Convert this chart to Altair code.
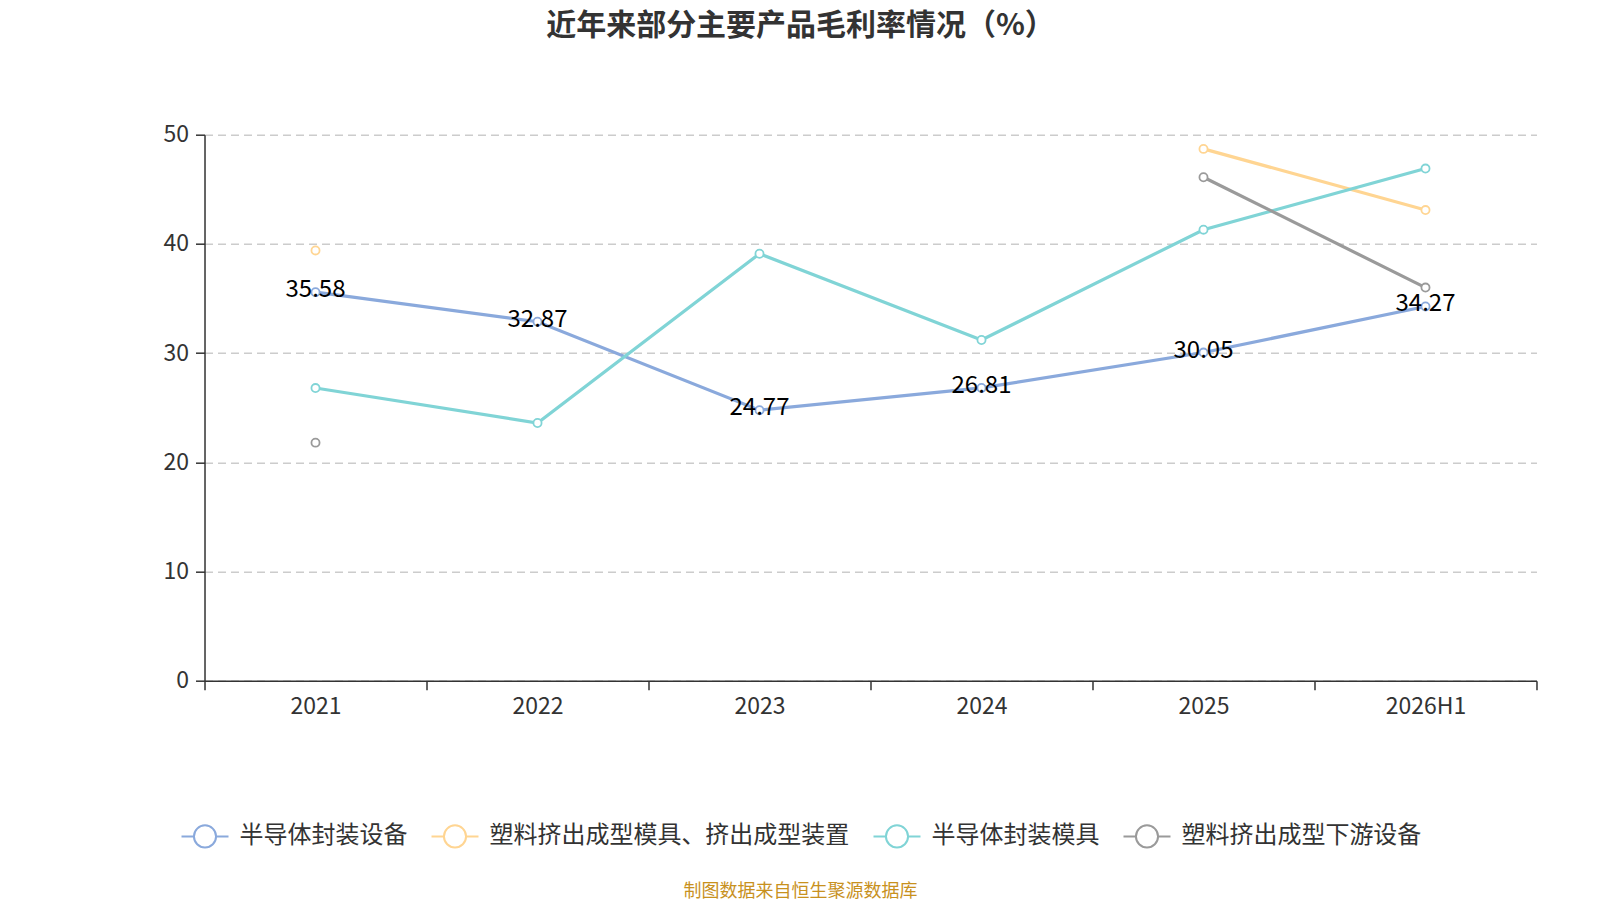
import altair as alt
import pandas as pd

FONT = "Noto Sans CJK SC"

periods = ["2021", "2022", "2023", "2024", "2025", "2026H1"]
series_names = [
    "半导体封装设备",
    "塑料挤出成型模具、挤出成型装置",
    "半导体封装模具",
    "塑料挤出成型下游设备",
]
equip = [35.58, 32.87, 24.77, 26.81, 30.05, 34.27]
extrusion_mold = [39.4, None, None, None, 48.7, 43.1]
package_mold = [26.8, 23.6, 39.1, 31.2, 41.3, 46.9]
downstream = [21.8, None, None, None, 46.1, 36.0]
colors = ["#8aa9dc", "#ffd592", "#80d4d6", "#9a9a9a"]

title_text = "近年来部分主要产品毛利率情况（%）"
source_text = "制图数据来自恒生聚源数据库"

rows = []
for name, vals in zip(series_names, [equip, extrusion_mold, package_mold, downstream]):
    for p, v in zip(periods, vals):
        rows.append({"period": p, "series": name, "value": v})
df = pd.DataFrame(rows)

# line - circle - line, drawn in the [-1, 1] unit box
legend_symbol = (
    "M-1,0L-0.47,0M0.47,0A0.47,0.47,0,1,1,-0.47,0"
    "A0.47,0.47,0,1,1,0.47,0M0.47,0L1,0"
)
color = alt.Color(
    "series:N",
    scale=alt.Scale(domain=series_names, range=colors),
    legend=alt.Legend(
        title=None,
        orient="none",
        direction="horizontal",
        legendX=-24,
        legendY=677,
        symbolType=legend_symbol,
        symbolSize=2209,
        symbolStrokeWidth=2,
        symbolFillColor="white",
        labelFontSize=24,
        labelFont=FONT,
        labelColor="#333333",
        labelOffset=10,
        columnPadding=20,
        labelLimit=600,
    ),
)
x = alt.X(
    "period:O",
    sort=periods,
    scale=alt.Scale(type="band", paddingInner=0, paddingOuter=0),
    bandPosition=0.5,
    title=None,
    axis=alt.Axis(
        labelAngle=0,
        labelFontSize=23,
        labelColor="#333333",
        labelFont=FONT,
        labelPadding=6,
        tickBand="extent",
        tickSize=9,
        tickWidth=1.5,
        tickColor="#333333",
        domainColor="#333333",
        domainWidth=1.5,
        grid=False,
    ),
)
y = alt.Y(
    "value:Q",
    scale=alt.Scale(domain=[0, 50]),
    title=None,
    axis=alt.Axis(
        values=[0, 10, 20, 30, 40, 50],
        labelFontSize=23,
        labelColor="#333333",
        labelFont=FONT,
        labelPadding=7,
        tickSize=9,
        tickWidth=1.5,
        tickColor="#333333",
        domainColor="#333333",
        domainWidth=1.5,
        gridColor="#cccccc",
        gridDash=[8, 5],
        gridWidth=1.5,
    ),
)

base = alt.Chart(df)

lines = base.mark_line(strokeWidth=3.2).encode(x=x, y=y, color=color)

points = (
    base.transform_filter("datum.value != null")
    .mark_point(filled=False, fill="white", fillOpacity=1, size=66, strokeWidth=1.8, opacity=1)
    .encode(x=x, y=y, color=color)
)

labels = (
    base.transform_filter(alt.datum.series == series_names[0])
    .mark_text(fontSize=24, font=FONT, color="#000000", dy=-2)
    .encode(x=x, y=y, text=alt.Text("value:Q", format=".2f"))
)

title = (
    alt.Chart(pd.DataFrame({"t": [title_text]}))
    .mark_text(fontSize=30, font=FONT, fontWeight="bold", color="#333333", align="center", baseline="middle")
    .encode(x=alt.value(596), y=alt.value(-109), text="t:N")
)
source = (
    alt.Chart(pd.DataFrame({"t": [source_text]}))
    .mark_text(fontSize=18, font=FONT, color="#c8911e", align="center", baseline="middle")
    .encode(x=alt.value(596), y=alt.value(757), text="t:N")
)

chart = (
    alt.layer(lines, points, labels, title, source)
    .properties(
        width=1332,
        height=546,
        autosize=alt.AutoSizeParams(type="none"),
        padding={"left": 196.5, "top": 126.7, "right": 30, "bottom": 225},
    )
    .configure_view(strokeWidth=0)
)

chart.save("out.html", embed_options={"renderer": "svg", "actions": False})
